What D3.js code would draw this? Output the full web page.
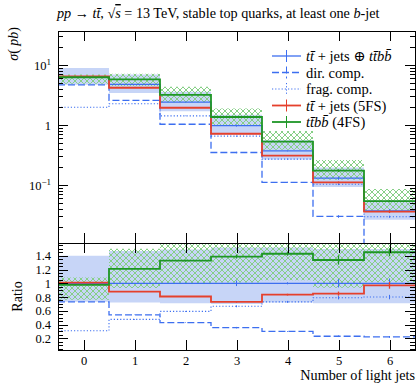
<!DOCTYPE html>
<html>
<head>
<meta charset="utf-8">
<script src="https://cdn.jsdelivr.net/npm/d3@7"></script>
<style>
  body { margin: 0; background: #fff; }
  svg { display: block; font-family: "Liberation Serif", "DejaVu Serif", serif; }
</style>
</head>
<body>
<svg id="chart" width="416" height="383"></svg>
<script>
// Number of light jets (bin centres)
const jets = [0, 1, 2, 3, 4, 5, 6];

// Cross sections in pb per light-jet multiplicity
const combined      = [6.4, 4.75, 2.4, 0.98, 0.37, 0.13, 0.037];   // tt+jets ⊕ ttbb
const direct        = [4.67, 2.57, 1.03, 0.348, 0.111, 0.0299, 0.00814];
const fragmentation = [1.98, 2.26, 1.42, 0.652, 0.270, 0.1027, 0.0296];
const fiveFS        = [6.46, 4.18, 1.94, 0.715, 0.309, 0.1105, 0.0359];
const fourFS        = [6.25, 5.75, 3.19, 1.36, 0.529, 0.174, 0.0537];

// Relative uncertainty bands (factor applied to the central value)
const combinedUp   = [1.40, 1.47, 1.49, 1.52, 1.52, 1.50, 1.50];
const combinedDown = [0.73, 0.72, 0.71, 0.70, 0.72, 0.71, 0.71];
const fourFSUp     = [1.11, 1.24, 1.36, 1.38, 1.50, 1.50, 1.60];
const fourFSDown   = [0.78, 0.77, 0.75, 0.73, 0.73, 0.70, 0.70];

// Relative statistical errors
const combinedErr = [0.003, 0.005, 0.01, 0.04, 0.015, 0.06, 0.07];
const directErr   = [0.003, 0.005, 0.01, 0.03, 0.02, 0.05, 0.06];
const fragErr     = [0.003, 0.01, 0.01, 0.02, 0.02, 0.03, 0.04];
const fiveFSErr   = [0.003, 0.005, 0.008, 0.015, 0.015, 0.035, 0.05];
const fourFSErr   = [0.003, 0.005, 0.01, 0.02, 0.02, 0.05, 0.04];

// Axis ticks
const mainMajor  = [0.1, 1, 10];
const mainMinor  = [0.02,0.03,0.04,0.05,0.06,0.07,0.08,0.09,0.2,0.3,0.4,0.5,0.6,0.7,0.8,0.9,2,3,4,5,6,7,8,9,20,30];
const ratioMajor = [0.2, 0.4, 0.6, 0.8, 1, 1.2, 1.4];
const ratioMinor = [0.05,0.1,0.15,0.25,0.3,0.35,0.45,0.5,0.55,0.65,0.7,0.75,0.85,0.9,0.95,1.05,1.1,1.15,1.25,1.3,1.35,1.45,1.5,1.55];

const BLUE = "#3d6ff0", RED = "#e5402c", GREEN = "#1e9626";
const BAND = "#c7d5f7", HATCH = "#86cf86";

const series = [
  { label: "combined", vals: combined,      err: combinedErr, color: BLUE,  width: 1.3, dash: null },
  { label: "direct",   vals: direct,        err: directErr,   color: BLUE,  width: 1.3, dash: "7,3" },
  { label: "frag",     vals: fragmentation, err: fragErr,     color: BLUE,  width: 1.1, dash: "1.2,2" },
  { label: "5FS",      vals: fiveFS,        err: fiveFSErr,   color: RED,   width: 1.8, dash: null },
  { label: "4FS",      vals: fourFS,        err: fourFSErr,   color: GREEN, width: 1.8, dash: null }
];

const L = 58, R = 415, T = 31, M = 243, B = 350;
const svg = d3.select("#chart");

const x  = d3.scaleLinear().domain([-0.5, 6.5]).range([L, R]);
const y  = d3.scaleLog().domain([0.0108, 36.9]).range([M, T]);
const yr = d3.scaleLinear().domain([0.03, 1.586]).range([B, M]);

const defs = svg.append("defs");
defs.append("clipPath").attr("id", "clipMain").append("rect")
  .attr("x", L).attr("y", T).attr("width", R - L).attr("height", M - T);
defs.append("clipPath").attr("id", "clipRatio").append("rect")
  .attr("x", L).attr("y", M).attr("width", R - L).attr("height", B - M);
const pat = defs.append("pattern").attr("id", "hatch")
  .attr("patternUnits", "userSpaceOnUse").attr("width", 6).attr("height", 6);
pat.append("path").attr("d", "M-1,-1L7,7M7,-1L-1,7")
  .attr("stroke", HATCH).attr("stroke-width", 1).attr("fill", "none");

// Step points at bin edges, closed with the last value at the right edge
const last = jets.length - 1;
function stepPoints(vals) {
  const pts = jets.map((j, i) => ({ x: j - 0.5, v: vals[i] }));
  pts.push({ x: jets[last] + 0.5, v: vals[last] });
  return pts;
}
function bandPoints(lo, hi) {
  const pts = jets.map((j, i) => ({ x: j - 0.5, lo: lo[i], hi: hi[i] }));
  pts.push({ x: jets[last] + 0.5, lo: lo[last], hi: hi[last] });
  return pts;
}

function drawPanel(g, yScale, transform) {
  const val = (s, i) => transform(s.vals[i], i);
  const line = d3.line().curve(d3.curveStepAfter).x(d => x(d.x)).y(d => yScale(d.v));
  const area = d3.area().curve(d3.curveStepAfter).x(d => x(d.x))
    .y0(d => yScale(d.lo)).y1(d => yScale(d.hi));

  const cLo = combined.map((v, i) => transform(v * combinedDown[i], i));
  const cHi = combined.map((v, i) => transform(v * combinedUp[i], i));
  g.append("path").datum(bandPoints(cLo, cHi)).attr("d", area).attr("fill", BAND);

  const gLo = fourFS.map((v, i) => transform(v * fourFSDown[i], i));
  const gHi = fourFS.map((v, i) => transform(v * fourFSUp[i], i));
  g.append("path").datum(bandPoints(gLo, gHi)).attr("d", area).attr("fill", "url(#hatch)");

  series.forEach(s => {
    const vals = jets.map((j, i) => val(s, i));
    g.append("path").datum(stepPoints(vals)).attr("d", line)
      .attr("fill", "none").attr("stroke", s.color).attr("stroke-width", s.width)
      .attr("stroke-dasharray", s.dash);
    g.selectAll(null).data(jets).enter().append("line")
      .attr("x1", j => x(j)).attr("x2", j => x(j))
      .attr("y1", (j, i) => yScale(vals[i] * (1 - s.err[i])))
      .attr("y2", (j, i) => yScale(vals[i] * (1 + s.err[i])))
      .attr("stroke", s.color).attr("stroke-width", s.width > 1.5 ? 1.3 : 1);
  });
}

const gMain = svg.append("g").attr("clip-path", "url(#clipMain)");
drawPanel(gMain, y, v => v);
const gRatio = svg.append("g").attr("clip-path", "url(#clipRatio)");
drawPanel(gRatio, yr, (v, i) => v / combined[i]);

// ---- axes ----
function cleanAxis(sel) { sel.select(".domain").remove(); sel.selectAll("line").attr("shape-rendering", "crispEdges"); }
const TICK_FONT = 12.5;

const supLabel = function (d) {
  const t = d3.select(this).text(null);
  if (d === 1) { t.text("1"); return; }
  t.append("tspan").text("10");
  t.append("tspan").attr("dy", "-0.5em").attr("font-size", "9px").text(d > 1 ? "1" : "−1");
};
svg.append("g").attr("transform", `translate(${L},0)`)
  .call(d3.axisLeft(y).tickValues(mainMajor).tickSize(-10).tickPadding(7).tickFormat(() => ""))
  .call(cleanAxis)
  .call(g => g.selectAll(".tick text").attr("font-size", TICK_FONT).attr("font-family", "Liberation Serif").each(supLabel));
svg.append("g").attr("transform", `translate(${L},0)`)
  .call(d3.axisLeft(y).tickValues(mainMinor).tickSize(-5).tickFormat(""))
  .call(cleanAxis);
svg.append("g").attr("transform", `translate(${R},0)`)
  .call(d3.axisRight(y).tickValues(mainMajor).tickSize(-10).tickFormat(""))
  .call(cleanAxis);
svg.append("g").attr("transform", `translate(${R},0)`)
  .call(d3.axisRight(y).tickValues(mainMinor).tickSize(-5).tickFormat(""))
  .call(cleanAxis);

svg.append("g").attr("transform", `translate(${L},0)`)
  .call(d3.axisLeft(yr).tickValues(ratioMajor).tickSize(-10).tickPadding(7).tickFormat(d3.format("~g")))
  .call(cleanAxis)
  .call(g => g.selectAll(".tick text").attr("font-size", TICK_FONT).attr("font-family", "Liberation Serif"));
svg.append("g").attr("transform", `translate(${L},0)`)
  .call(d3.axisLeft(yr).tickValues(ratioMinor).tickSize(-5).tickFormat(""))
  .call(cleanAxis);
svg.append("g").attr("transform", `translate(${R},0)`)
  .call(d3.axisRight(yr).tickValues(ratioMajor).tickSize(-10).tickFormat(""))
  .call(cleanAxis);
svg.append("g").attr("transform", `translate(${R},0)`)
  .call(d3.axisRight(yr).tickValues(ratioMinor).tickSize(-5).tickFormat(""))
  .call(cleanAxis);

svg.append("g").attr("transform", `translate(0,${T})`)
  .call(d3.axisTop(x).tickValues(jets).tickSize(-10).tickFormat("")).call(cleanAxis);
svg.append("g").attr("transform", `translate(0,${M})`)
  .call(d3.axisBottom(x).tickValues(jets).tickSize(-10).tickFormat("")).call(cleanAxis);
svg.append("g").attr("transform", `translate(0,${M})`)
  .call(d3.axisTop(x).tickValues(jets).tickSize(-10).tickFormat("")).call(cleanAxis);
svg.append("g").attr("transform", `translate(0,${B})`)
  .call(d3.axisBottom(x).tickValues(jets).tickSize(-10).tickPadding(6).tickFormat(d3.format("d")))
  .call(cleanAxis)
  .call(g => g.selectAll(".tick text").attr("font-size", TICK_FONT).attr("font-family", "Liberation Serif"));

svg.append("rect").attr("x", L).attr("y", T).attr("width", R - L).attr("height", M - T)
  .attr("fill", "none").attr("stroke", "#000").attr("shape-rendering", "crispEdges");
svg.append("rect").attr("x", L).attr("y", M).attr("width", R - L).attr("height", B - M)
  .attr("fill", "none").attr("stroke", "#000").attr("shape-rendering", "crispEdges");

// ---- text ----
function rich(parent, parts) {
  parts.forEach(p => {
    const ts = parent.append("tspan").text(p.t);
    if (p.i) ts.attr("font-style", "italic");
    if (p.o) ts.attr("text-decoration", "overline");
  });
  return parent;
}

rich(svg.append("text").attr("x", 57).attr("y", 18).attr("font-size", 14.2), [
  { t: "pp", i: 1 }, { t: " → " }, { t: "tt\u0304", i: 1 }, { t: ", √" }, { t: "s", i: 1, o: 1 },
  { t: " = 13 TeV, stable top quarks, at least one " }, { t: "b", i: 1 }, { t: "-jet" }
]);

rich(svg.append("text").attr("transform", "translate(18,27) rotate(-90)")
  .attr("text-anchor", "end").attr("font-size", 14), [
  { t: "σ", i: 1 }, { t: "( " }, { t: "pb", i: 1 }, { t: ")" }
]);

svg.append("text").attr("transform", `translate(22,${(M + B) / 2}) rotate(-90)`)
  .attr("text-anchor", "middle").attr("font-size", 14).text("Ratio");

svg.append("text").attr("x", R).attr("y", 380).attr("text-anchor", "end")
  .attr("font-size", 14.2).text("Number of light jets");

// ---- legend ----
const legendLabels = [
  [{ t: "tt\u0304", i: 1 }, { t: " + jets ⊕ " }, { t: "tt\u0304bb\u0304", i: 1 }],
  [{ t: "dir. comp." }],
  [{ t: "frag. comp." }],
  [{ t: "tt\u0304", i: 1 }, { t: " + jets (5FS)" }],
  [{ t: "tt\u0304bb\u0304", i: 1 }, { t: " (4FS)" }]
];
const legY = [56, 72.5, 89, 105.5, 122];
series.forEach((s, k) => {
  const g = svg.append("g").attr("transform", `translate(0,${legY[k]})`);
  g.append("line").attr("x1", 272).attr("x2", 301).attr("y1", 0).attr("y2", 0)
    .attr("stroke", s.color).attr("stroke-width", s.width).attr("stroke-dasharray", s.dash);
  g.append("line").attr("x1", 286.5).attr("x2", 286.5).attr("y1", -6).attr("y2", 6)
    .attr("stroke", s.color).attr("stroke-width", 1).attr("stroke-dasharray", s.dash);
  rich(g.append("text").attr("x", 306).attr("y", 5).attr("font-size", 14.5), legendLabels[k]);
});
</script>
</body>
</html>
